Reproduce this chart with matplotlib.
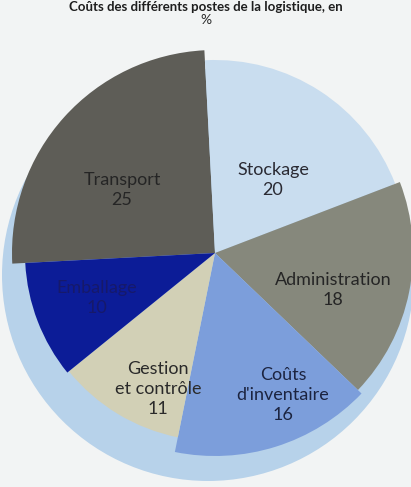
import matplotlib.pyplot as plt
from matplotlib.patches import Circle

# cost shares of logistics, in %
categories = ["Transport", "Stockage", "Administration",
              "Coûts\nd'inventaire", "Gestion\net contrôle", "Emballage"]
values = [25, 20, 18, 16, 11, 10]

colors = ["#5e5d57", "#c9ddef", "#86887c", "#7c9edb", "#d2d0b6", "#0c1c97"]
text_colors = ["#252525", "#2a2a33", "#252525", "#1c2440", "#2a2a2a", "#16196a"]
radii = [203, 193, 198, 203, 188, 190]

# label centres in pixels (y measured from the bottom)
label_pos = [(122, 297), (273, 307), (333, 197), (283, 92), (158, 98), (97, 189)]

W, H = 411, 487
fig = plt.figure(figsize=(W / 100, H / 100), dpi=100)
fig.patch.set_facecolor("#f2f4f4")
ax = fig.add_axes([0, 0, 1, 1])
ax.set_facecolor("#f2f4f4")

# pale disc behind the slices
ax.add_patch(Circle((208, 212), 206, facecolor="#b7d2ea", edgecolor="none", zorder=0))

wedges, _ = ax.pie(values, colors=colors, startangle=183, counterclock=False,
                   center=(215, 234), radius=200,
                   wedgeprops=dict(linewidth=0))
for w, r in zip(wedges, radii):
    w.set_radius(r)
    w.set_zorder(1)

font = ["Lato", "DejaVu Sans"]
for name, v, (x, y), tc in zip(categories, values, label_pos, text_colors):
    ax.text(x, y, f"{name}\n{v}", ha="center", va="center", fontsize=13,
            color=tc, family=font, linespacing=1.3, zorder=3)

# title
ax.text(W / 2, H - 1, "Coûts des différents postes de la logistique, en", ha="center",
        va="top", fontsize=9.5, color="#1e1e1e", family=font, fontweight="bold")
ax.text(W / 2, H - 20, "%", ha="center", va="center", fontsize=10,
        color="#2a2a2a", family=font)

ax.set_xlim(0, W)
ax.set_ylim(0, H)
ax.set_aspect("equal")
ax.axis("off")

fig.savefig("out.png", dpi=100, facecolor=fig.get_facecolor())
